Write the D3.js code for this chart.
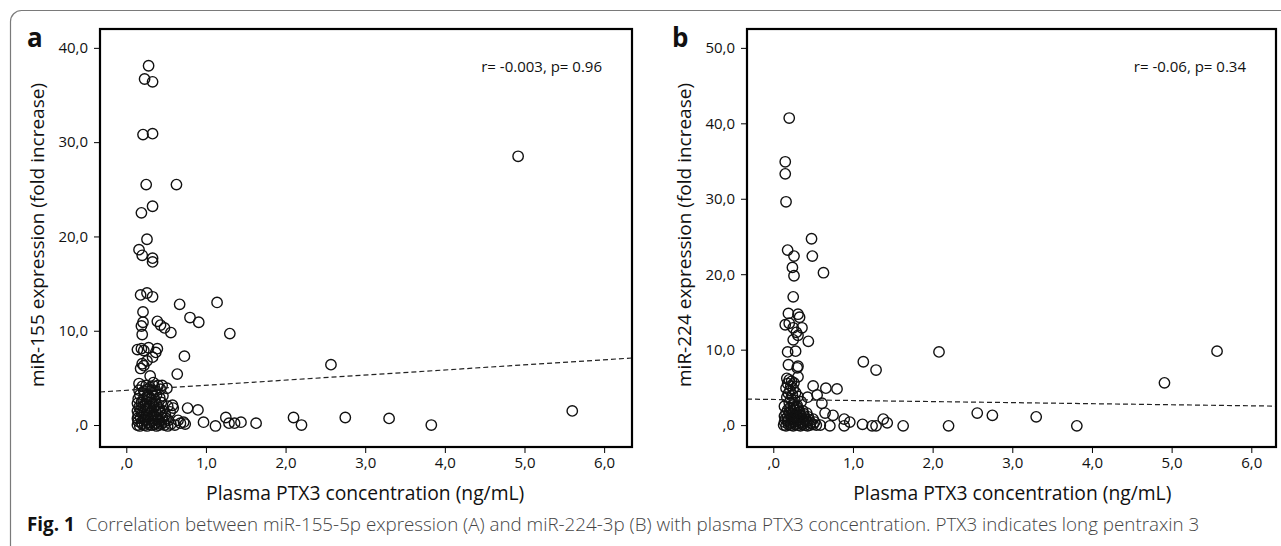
<!DOCTYPE html>
<html>
<head>
<meta charset="utf-8">
<script src="https://cdn.jsdelivr.net/npm/d3@7"></script>
<style>
  body { margin: 0; background: #fff; }
  svg { display: block; font-family: "Open Sans", sans-serif; }
</style>
</head>
<body>
<div id="chart-area"></div>
<script>
// panel a : miR-155 vs plasma PTX3
const ptx3A = [
  0.28, 0.23, 0.33, 0.21, 0.33, 0.25, 0.63, 0.33, 0.19, 0.26, 0.16, 0.20, 0.33, 0.33,
  0.18, 0.26, 0.33, 0.67, 1.14, 0.21, 0.39, 0.43, 0.48, 0.56, 0.19, 0.21, 0.20, 0.80,
  0.91, 1.30, 0.14, 0.19, 0.22, 0.28, 0.39, 0.37, 0.73, 0.20, 0.26, 0.33, 0.18, 0.22,
  0.64, 0.30, 0.16, 0.34, 0.45, 0.51, 0.58, 0.59, 0.77, 0.90, 0.72, 0.74, 0.65, 0.68,
  0.97, 1.12, 1.25, 1.29, 1.36, 1.44, 1.63, 2.10, 2.20, 2.57, 2.75, 3.30, 3.83, 4.92, 5.60,
  // dense group
  0.14, 0.17, 0.20, 0.23, 0.26, 0.29, 0.32, 0.35, 0.38, 0.41, 0.44, 0.48, 0.52, 0.56, 0.61,
  0.15, 0.19, 0.24, 0.28, 0.33, 0.37, 0.42, 0.47, 0.53,
  0.14, 0.18, 0.22, 0.27, 0.31, 0.36, 0.40, 0.45, 0.50,
  0.15, 0.20, 0.25, 0.29, 0.34, 0.39, 0.44, 0.49,
  0.14, 0.18, 0.23, 0.27, 0.32, 0.37, 0.42, 0.46, 0.55,
  0.16, 0.21, 0.26, 0.30, 0.35, 0.41, 0.52,
  0.14, 0.19, 0.24, 0.29, 0.34, 0.38, 0.44,
  0.15, 0.21, 0.26, 0.31, 0.36, 0.42,
  0.17, 0.23, 0.28, 0.33, 0.38, 0.46,
  0.16, 0.22, 0.27, 0.32, 0.37, 0.43,
  0.20, 0.25, 0.30, 0.35, 0.40
];
const mir155 = [
  38.1, 36.7, 36.4, 30.8, 30.9, 25.5, 25.5, 23.2, 22.5, 19.7, 18.6, 18.0, 17.7, 17.3,
  13.8, 14.0, 13.6, 12.8, 13.0, 12.0, 11.0, 10.6, 10.3, 9.8, 10.5, 10.9, 9.6, 11.4,
  10.9, 9.7, 8.0, 8.1, 7.9, 8.2, 8.1, 7.7, 7.3, 6.5, 6.8, 7.2, 6.0, 6.3,
  5.4, 5.2, 4.4, 4.5, 4.2, 3.9, 2.1, 1.8, 1.8, 1.6, 0.3, 0.1, 0.5, 0.2,
  0.3, -0.1, 0.8, 0.2, 0.2, 0.3, 0.2, 0.8, 0.0, 6.4, 0.8, 0.7, 0.0, 28.5, 1.5,
  0.0, -0.1, 0.1, 0.0, -0.1, 0.1, 0.0, 0.1, -0.1, 0.0, 0.1, 0.0, -0.1, 0.1, 0.0,
  0.4, 0.3, 0.5, 0.3, 0.4, 0.2, 0.4, 0.3, 0.5,
  0.7, 0.8, 0.6, 0.8, 0.7, 0.9, 0.6, 0.8, 0.7,
  1.1, 1.2, 1.0, 1.2, 1.1, 1.0, 1.2, 1.1,
  1.5, 1.6, 1.4, 1.6, 1.5, 1.4, 1.6, 1.5, 1.4,
  1.9, 2.0, 1.8, 2.0, 1.9, 1.8, 2.0,
  2.3, 2.4, 2.2, 2.4, 2.3, 2.2, 2.4,
  2.8, 2.7, 2.9, 2.8, 2.7, 2.9,
  3.2, 3.3, 3.1, 3.3, 3.2, 3.1,
  3.7, 3.6, 3.8, 3.7, 3.6, 3.8,
  4.1, 4.2, 4.0, 4.1, 4.2
];

// panel b : miR-224 vs plasma PTX3
const ptx3B = [
  0.20, 0.15, 0.15, 0.16, 0.48, 0.18, 0.26, 0.49, 0.24, 0.63, 0.26, 0.25, 0.19, 0.31,
  0.33, 0.15, 0.20, 0.25, 0.29, 0.36, 0.31, 0.25, 0.44, 0.18, 0.28, 2.08, 1.13, 1.29,
  0.19, 0.30, 0.31, 0.31, 0.50, 0.66, 0.80, 0.55, 0.43, 0.61, 0.14, 0.75, 0.65, 0.89,
  0.96, 0.59, 0.71, 0.89, 1.12, 1.24, 1.29, 1.38, 1.43, 1.63, 2.20, 2.56, 2.75, 3.30,
  3.81, 4.91, 5.57,
  // dense group
  0.17, 0.20, 0.23, 0.18, 0.22, 0.26, 0.16, 0.21, 0.25, 0.19, 0.24, 0.28, 0.17, 0.22,
  0.27, 0.31, 0.20, 0.25, 0.30, 0.35,
  0.13, 0.16, 0.19, 0.22, 0.25, 0.28, 0.31, 0.34, 0.37, 0.40, 0.43, 0.46, 0.50, 0.54,
  0.14, 0.18, 0.22, 0.26, 0.30, 0.34, 0.38, 0.42, 0.47, 0.52,
  0.15, 0.19, 0.23, 0.27, 0.31, 0.36, 0.40, 0.45, 0.50,
  0.14, 0.18, 0.22, 0.26, 0.30, 0.34, 0.39, 0.44,
  0.16, 0.20, 0.25, 0.29, 0.33, 0.38, 0.42,
  0.18, 0.23, 0.27, 0.32, 0.37,
  0.21, 0.26, 0.30
];
const mir224 = [
  40.7, 34.9, 33.3, 29.6, 24.7, 23.2, 22.4, 22.4, 20.9, 20.2, 19.8, 17.0, 14.8, 14.7,
  14.3, 13.3, 13.5, 12.9, 12.3, 12.9, 11.9, 11.3, 11.1, 9.7, 9.8, 9.7, 8.4, 7.3,
  8.0, 7.6, 7.8, 6.4, 5.2, 4.9, 4.8, 4.0, 3.7, 2.9, 2.5, 1.3, 1.6, 0.8,
  0.4, 0.0, -0.1, -0.1, 0.1, -0.1, -0.1, 0.8, 0.3, -0.1, -0.1, 1.6, 1.3, 1.1,
  -0.1, 5.6, 9.8,
  6.2, 6.0, 5.8, 5.5, 5.2, 5.6, 4.9, 4.6, 4.8, 4.2, 4.0, 4.3, 3.7, 3.5,
  3.3, 3.8, 3.0, 2.8, 2.6, 3.1,
  0.0, -0.1, 0.1, 0.0, -0.1, 0.1, 0.0, -0.1, 0.1, 0.0, -0.1, 0.0, 0.1, 0.0,
  0.4, 0.5, 0.3, 0.4, 0.5, 0.3, 0.4, 0.5, 0.3, 0.4,
  0.8, 0.7, 0.9, 0.8, 0.7, 0.9, 0.8, 0.7, 0.8,
  1.2, 1.1, 1.3, 1.2, 1.1, 1.3, 1.2, 1.1,
  1.6, 1.7, 1.5, 1.6, 1.7, 1.5, 1.6,
  2.0, 1.9, 2.1, 2.0, 1.9,
  2.3, 2.4, 2.3
];

// fit lines: [intercept, slope]
const fitA = [3.68, 0.54];
const fitB = [3.40, -0.14];

const xTicks = [0, 1, 2, 3, 4, 5, 6];
const xTickLabels = [",0", "1,0", "2,0", "3,0", "4,0", "5,0", "6,0"];
const yTicksA = [0, 10, 20, 30, 40];
const yTickLabelsA = [",0", "10,0", "20,0", "30,0", "40,0"];
const yTicksB = [0, 10, 20, 30, 40, 50];
const yTickLabelsB = [",0", "10,0", "20,0", "30,0", "40,0", "50,0"];

const W = 1281, H = 546;
const svg = d3.select("#chart-area").append("svg")
  .attr("width", W)
  .attr("height", H);

svg.append("rect").attr("width", W).attr("height", H).attr("fill", "#fff");

// outer rounded box
svg.append("rect")
  .attr("x", 10.5).attr("y", 10.5)
  .attr("width", 1300).attr("height", 560)
  .attr("rx", 11)
  .attr("fill", "none")
  .attr("stroke", "#7a7a7a")
  .attr("stroke-width", 1.2);

function panel(cfg) {
  const x = d3.scaleLinear().domain(cfg.xDomain).range([cfg.left, cfg.right]);
  const y = d3.scaleLinear().domain(cfg.yDomain).range([447, 29]);
  const g = svg.append("g");

  // x axis, ticks outside frame
  g.append("g")
    .attr("transform", "translate(0,447)")
    .call(d3.axisBottom(x).tickValues(xTicks)
      .tickFormat((d, i) => xTickLabels[i]).tickSize(6).tickPadding(4))
    .call(a => a.select(".domain").remove())
    .call(a => a.selectAll("text").attr("font-size", 15)
      .attr("font-family", "Open Sans").attr("fill", "#111"));

  g.append("g")
    .attr("transform", `translate(${cfg.left},0)`)
    .call(d3.axisLeft(y).tickValues(cfg.yTicks)
      .tickFormat((d, i) => cfg.yLabels[i]).tickSize(6).tickPadding(6))
    .call(a => a.select(".domain").remove())
    .call(a => a.selectAll("text").attr("font-size", 15)
      .attr("font-family", "Open Sans").attr("fill", "#111"));

  // points
  const clip = "clip-" + cfg.name;
  svg.append("clipPath").attr("id", clip)
    .append("rect").attr("x", cfg.left).attr("y", 29)
    .attr("width", cfg.right - cfg.left).attr("height", 418);

  g.append("g").selectAll("circle")
    .data(cfg.xs.map((d, i) => [d, cfg.ys[i]]))
    .enter().append("circle")
    .attr("cx", d => x(d[0]))
    .attr("cy", d => y(d[1]))
    .attr("r", 5.2)
    .attr("fill", "none")
    .attr("stroke", "#111")
    .attr("stroke-width", 1.4);

  // fit line
  const x0 = cfg.xDomain[0], x1 = cfg.xDomain[1];
  g.append("line")
    .attr("clip-path", `url(#${clip})`)
    .attr("x1", x(x0)).attr("y1", y(cfg.fit[0] + cfg.fit[1] * x0))
    .attr("x2", x(x1)).attr("y2", y(cfg.fit[0] + cfg.fit[1] * x1))
    .attr("stroke", "#222")
    .attr("stroke-width", 1.2)
    .attr("stroke-dasharray", "5,3");

  // frame
  g.append("rect")
    .attr("x", cfg.left).attr("y", 29)
    .attr("width", cfg.right - cfg.left).attr("height", 418)
    .attr("fill", "none")
    .attr("stroke", "#000")
    .attr("stroke-width", 2.2);

  // stats note
  g.append("text")
    .attr("x", cfg.right - 30).attr("y", 72)
    .attr("text-anchor", "end")
    .attr("font-size", 15)
    .attr("fill", "#111")
    .text(cfg.note);

  // panel letter
  g.append("text")
    .attr("x", cfg.letterX).attr("y", 47)
    .attr("font-size", 26)
    .attr("font-weight", "bold")
    .attr("fill", "#111")
    .text(cfg.name);

  // axis titles
  g.append("text")
    .attr("x", (x(0) + x(6)) / 2).attr("y", 500)
    .attr("text-anchor", "middle")
    .attr("font-size", 19.3)
    .attr("fill", "#111")
    .text("Plasma PTX3 concentration (ng/mL)");

  g.append("text")
    .attr("transform", `translate(${cfg.titleX},235) rotate(-90)`)
    .attr("text-anchor", "middle")
    .attr("font-size", 19)
    .attr("fill", "#111")
    .text(cfg.yTitle);
}

panel({
  name: "a", left: 100, right: 632,
  xDomain: [-0.33, 6.35], yDomain: [-2.33, 42.0],
  yTicks: yTicksA, yLabels: yTickLabelsA,
  xs: ptx3A, ys: mir155, fit: fitA,
  note: "r= -0.003, p= 0.96", letterX: 27, titleX: 44,
  yTitle: "miR-155 expression (fold increase)"
});

panel({
  name: "b", left: 747, right: 1276,
  xDomain: [-0.33, 6.31], yDomain: [-2.9, 52.5],
  yTicks: yTicksB, yLabels: yTickLabelsB,
  xs: ptx3B, ys: mir224, fit: fitB,
  note: "r= -0.06, p= 0.34", letterX: 672, titleX: 691,
  yTitle: "miR-224 expression (fold increase)"
});

// caption
const cap = svg.append("text")
  .attr("x", 27).attr("y", 531)
  .attr("font-size", 18.8);
cap.append("tspan").attr("font-weight", "bold").attr("fill", "#111").text("Fig. 1");
cap.append("tspan").attr("dx", 11).attr("fill", "#444").attr("font-weight", 300)
  .text("Correlation between miR-155-5p expression (A) and miR-224-3p (B) with plasma PTX3 concentration. PTX3 indicates long pentraxin 3");
</script>
</body>
</html>
